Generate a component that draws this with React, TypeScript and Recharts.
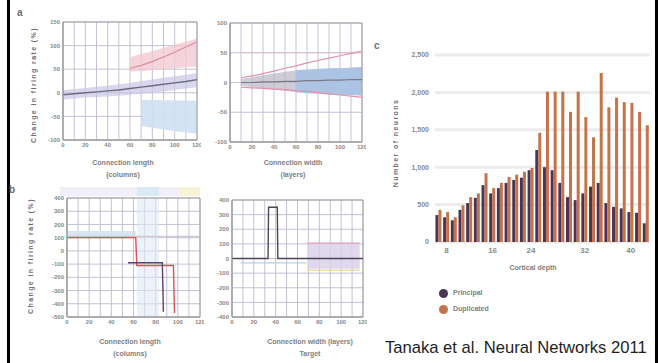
import React from 'react';
import {
  ComposedChart,
  BarChart,
  Bar,
  Line,
  Area,
  XAxis,
  YAxis,
  CartesianGrid,
  ReferenceArea,
} from 'recharts';

// ---------- panel a (top left) ----------
const aX = [0, 10, 20, 30, 40, 50, 60, 70, 80, 90, 100, 110, 120];
const aMean = [-4, -2, 0, 2, 4, 6, 9, 12, 15, 18, 21, 24, 28];
const aBandHi = [6, 8, 10, 13, 15, 18, 21, 25, 28, 32, 35, 38, 42];
const aBandLo = [-14, -12, -10, -9, -8, -6, -4, -2, 0, 3, 6, 9, 12];
const aPinkHi = [null, null, null, null, null, null, 76, 82, 88, 95, 102, 108, 115];
const aPinkLo = [null, null, null, null, null, null, 45, 46, 48, 50, 52, 54, 56];
const aRed = [null, null, null, null, null, null, 52, 58, 66, 76, 86, 97, 108];
const aBlueHi = [null, null, null, null, null, null, null, -15, -15, -16, -16, -17, -17];
const aBlueLo = [null, null, null, null, null, null, null, -70, -74, -78, -81, -84, -87];
const aTicksY = [-100, -50, 0, 50, 100, 150];

// ---------- panel b (top middle) ----------
const bX = [10, 20, 30, 40, 50, 60, 70, 80, 90, 100, 110, 120];
const bMean = [0, 0, 1, 1, 2, 2, 3, 3, 4, 4, 5, 5];
const bBandHi = [6, 9, 12, 15, 18, 20, 21, 22, 23, 24, 25, 26];
const bBandLo = [-6, -8, -10, -12, -14, -16, -17, -18, -19, -20, -21, -22];
const bBlueHi = [null, null, null, null, null, 21, 22, 23, 24, 24, 25, 26];
const bBlueLo = [null, null, null, null, null, -17, -18, -19, -20, -21, -21, -22];
const bPinkUp = [8, 11, 15, 19, 24, 28, 33, 37, 41, 45, 49, 53];
const bPinkDown = [-8, -9, -10, -11, -12, -14, -15, -17, -19, -21, -23, -25];
const bPinkFlat = [50, 50, 50, 50, 50, 50, 50, 50, 50, 50, 50, 50];
const bTicksY = [-100, -50, 0, 50, 100];

// ---------- panel c (bottom left) ----------
const cX = [0, 10, 20, 30, 40, 50, 55, 62, 63, 70, 80, 86, 87, 96, 97, 110, 120];
const cRed = [100, 100, 100, 100, 100, 100, 100, 100, -110, -110, -110, -110, -110, -110, -470, null, null];
const cPurple = [null, null, null, null, null, null, -90, -90, -90, -90, -90, -90, -460, null, null, null, null];
const cGrey = [110, 110, 110, 110, 110, 110, 110, 110, 110, 110, 110, 110, 110, 110, 110, 110, 110];
const cLavHi = [150, 150, 150, 150, 150, 150, 150, 150, null, null, null, null, null, null, null, null, null];
const cLavLo = [100, 100, 100, 100, 100, 100, 100, 100, null, null, null, null, null, null, null, null, null];
const cTicksY = [-500, -400, -300, -200, -100, 0, 100, 200, 300, 400];

// ---------- panel d (bottom middle) ----------
const dX = [0, 8, 20, 33, 33.5, 41.5, 42, 50, 60, 68, 69, 80, 90, 100, 110, 117, 120];
const dBlack = [0, 0, 0, 0, 350, 350, 0, 0, 0, 0, 0, 0, 0, 0, 0, 0, 0];
const dBlue = [null, -30, -30, -30, -30, -30, -30, -30, -30, -30, null, null, null, null, null, null, null];
const dPink = [null, null, null, null, null, null, null, null, null, null, 105, 105, 105, 105, 105, 105, null];
const dYellow = [null, null, null, null, null, null, null, null, null, null, -80, -80, -80, -80, -80, -80, null];
const dLavTop = [null, null, null, null, null, null, null, null, null, null, 105, 105, 105, 105, 105, 105, null];
const dLavBottom = [null, null, null, null, null, null, null, null, null, null, -70, -70, -70, -70, -70, -70, null];
const dTicksY = [-400, -300, -200, -100, 0, 100, 200, 300, 400];

const xGridTicks = [0, 10, 20, 30, 40, 50, 60, 70, 80, 90, 100, 110, 120];

// ---------- panel c (bar chart) ----------
const barCategories = ['1', '2', '3', '4', '5', '6', '7', '8', '9', '10', '11', '12', '13', '14',
  '15', '16', '17', '18', '19', '20', '21', '22', '23', '24', '25', '26', '27', '28'];
const principal = [360, 330, 290, 430, 520, 590, 760, 650, 720, 790, 830, 860, 960, 1230,
  1000, 960, 790, 600, 560, 650, 740, 790, 520, 470, 450, 400, 390, 250];
const duplicated = [430, 400, 330, 490, 600, 650, 920, 720, 790, 870, 900, 940, 990, 1460,
  2010, 2010, 2010, 1740, 2010, 1670, 1400, 2260, 1800, 1930, 1870, 1860, 1740, 1560];
const barTickText: Record<string, string> = { '2': '8', '8': '16', '13': '24', '20': '32', '26': '40' };
const barTicksY = [0, 500, 1000, 1500, 2000, 2500];

const font = "'Liberation Sans', Arial, sans-serif";
const tickStyle = { fontSize: 6, fontWeight: 700, fill: '#8a8a8a', fontFamily: font };

const zip = (xs: number[], cols: Record<string, (number | null)[]>, ranges: Record<string, [(number | null)[], (number | null)[]]>) =>
  xs.map((x, i) => {
    const row: any = { x };
    Object.keys(cols).forEach(k => { row[k] = cols[k][i]; });
    Object.keys(ranges).forEach(k => {
      const lo = ranges[k][0][i];
      const hi = ranges[k][1][i];
      row[k] = lo == null || hi == null ? null : [lo, hi];
    });
    return row;
  });

const aData = zip(aX, { mean: aMean, red: aRed }, { band: [aBandLo, aBandHi], pink: [aPinkLo, aPinkHi], blue: [aBlueLo, aBlueHi] });
const bData = zip(bX, { mean: bMean, up: bPinkUp, down: bPinkDown, flat: bPinkFlat }, { band: [bBandLo, bBandHi], blue: [bBlueLo, bBlueHi] });
const cData = zip(cX, { red: cRed, purple: cPurple, grey: cGrey }, { lav: [cLavLo, cLavHi] });
const dData = zip(dX, { black: dBlack, blue: dBlue, pink: dPink, yellow: dYellow }, { lav: [dLavBottom, dLavTop] });

const barData = barCategories.map((c, i) => ({ cat: c, principal: principal[i], duplicated: duplicated[i] }));

type PanelProps = {
  left: number; top: number; width: number; height: number; yWidth: number;
  data: any[]; yDomain: [number, number]; yTicks: number[]; children: React.ReactNode;
};

function Panel({ left, top, width, height, yWidth, data, yDomain, yTicks, children }: PanelProps) {
  return (
    <div style={{ position: 'absolute', left, top }}>
      <ComposedChart width={width} height={height} data={data} margin={{ top: 4, right: 4, bottom: 0, left: 0 }}>
        <CartesianGrid stroke="#bcbad2" strokeWidth={0.9} />
        <XAxis
          dataKey="x"
          type="number"
          domain={[0, 120]}
          ticks={xGridTicks}
          interval={0}
          tickFormatter={(v: number) => (v % 20 === 0 ? String(v) : '')}
          tick={tickStyle}
          tickSize={2}
          tickMargin={1}
          tickLine={false}
          axisLine={{ stroke: '#9a9a9a' }}
          height={12}
        />
        <YAxis
          type="number"
          domain={yDomain}
          ticks={yTicks}
          interval={0}
          tick={tickStyle}
          tickSize={2}
          tickMargin={1}
          tickLine={false}
          axisLine={{ stroke: '#9a9a9a' }}
          width={yWidth}
        />
        {children}
        <ReferenceArea x1={0} x2={120} y1={yDomain[0]} y2={yDomain[1]} fill="none" stroke="#a0a0a0" strokeWidth={1} />
      </ComposedChart>
    </div>
  );
}

function AxisTitle({ x, y, lines }: { x: number; y: number; lines: string[] }) {
  return (
    <div style={{
      position: 'absolute', left: x, top: y, transform: 'translateX(-50%)', textAlign: 'center',
      fontFamily: font, fontSize: 7, fontWeight: 700, color: '#808080', lineHeight: '12px', whiteSpace: 'nowrap',
    }}>
      {lines.map(l => <div key={l}>{l}</div>)}
    </div>
  );
}

function VTitle({ x, y, text }: { x: number; y: number; text: string }) {
  return (
    <div style={{
      position: 'absolute', left: x, top: y, transform: 'translate(-50%, -50%) rotate(-90deg)',
      fontFamily: font, fontSize: 7, fontWeight: 700, color: '#6e6e6e', whiteSpace: 'nowrap', letterSpacing: 1.4,
    }}>
      {text}
    </div>
  );
}

function Letter({ x, y, t }: { x: number; y: number; t: string }) {
  return (
    <div style={{ position: 'absolute', left: x, top: y, fontFamily: font, fontSize: 10, fontWeight: 700, color: '#6e6e6e' }}>{t}</div>
  );
}

export default function App() {
  return (
    <div style={{ position: 'absolute', left: 0, top: 0, width: 659, height: 363, background: '#fff', overflow: 'hidden' }}>
      {/* slide frame */}
      <div style={{ position: 'absolute', left: 7, top: 0, width: 2.5, height: 363, background: '#000' }} />
      <div style={{ position: 'absolute', left: 655, top: 0, width: 3, height: 363, background: '#000' }} />

      <Letter x={17} y={7} t="a" />
      <Letter x={9} y={184} t="b" />
      <Letter x={374} y={40} t="c" />

      <VTitle x={33} y={85} text="Change in firing rate (%)" />
      <VTitle x={30} y={256} text="Change in firing rate (%)" />
      <VTitle x={395} y={143} text="Number of neurons" />

      {/* panel a */}
      <Panel left={20} top={18} width={181} height={134} yWidth={43} data={aData} yDomain={[-100, 150]} yTicks={aTicksY}>
        <Area dataKey="band" type="linear" stroke="none" fill="#c9c6e6" fillOpacity={0.7} isAnimationActive={false} />
        <Area dataKey="pink" type="linear" stroke="none" fill="#f3c9d3" fillOpacity={0.8} isAnimationActive={false} />
        <Area dataKey="blue" type="linear" stroke="none" fill="#cfe0f2" fillOpacity={0.9} isAnimationActive={false} />
        <Line dataKey="mean" type="linear" stroke="#6d6a7e" strokeWidth={1.4} dot={false} isAnimationActive={false} />
        <Line dataKey="red" type="linear" stroke="#e08a9c" strokeWidth={1.2} dot={false} isAnimationActive={false} />
      </Panel>
      <AxisTitle x={123} y={157} lines={['Connection length', '(columns)']} />

      {/* panel b */}
      <Panel left={200} top={19} width={166} height={135} yWidth={30} data={bData} yDomain={[-100, 100]} yTicks={bTicksY}>
        <Area dataKey="band" type="linear" stroke="none" fill="#b9b6c4" fillOpacity={0.7} isAnimationActive={false} />
        <Area dataKey="blue" type="linear" stroke="none" fill="#a9c3e6" fillOpacity={0.9} isAnimationActive={false} />
        <Line dataKey="flat" type="linear" stroke="#e7bccb" strokeWidth={1} dot={false} isAnimationActive={false} />
        <Line dataKey="mean" type="linear" stroke="#7c7886" strokeWidth={1.2} dot={false} isAnimationActive={false} />
        <Line dataKey="up" type="linear" stroke="#e493a6" strokeWidth={1.2} dot={false} isAnimationActive={false} />
        <Line dataKey="down" type="linear" stroke="#e493a6" strokeWidth={1.2} dot={false} isAnimationActive={false} />
      </Panel>
      <AxisTitle x={293} y={157} lines={['Connection width', '(layers)']} />

      {/* colour strips above panel c */}
      <div style={{ position: 'absolute', left: 60, top: 187, width: 140, height: 9, background: '#f1f0f8' }} />
      <div style={{ position: 'absolute', left: 137, top: 187, width: 22, height: 9, background: '#dbe8f6' }} />
      <div style={{ position: 'absolute', left: 180, top: 187, width: 20, height: 9, background: '#f7f3d6' }} />

      {/* panel c */}
      <Panel left={20} top={194} width={184} height={135} yWidth={47} data={cData} yDomain={[-500, 400]} yTicks={cTicksY}>
        <ReferenceArea x1={63} x2={83} y1={-500} y2={400} fill="#dfe9f6" fillOpacity={0.6} stroke="none" />
        <Area dataKey="lav" type="linear" stroke="none" fill="#d3e2f3" fillOpacity={0.9} isAnimationActive={false} />
        <Line dataKey="grey" type="linear" stroke="#c9bcc8" strokeWidth={1} dot={false} isAnimationActive={false} />
        <Line dataKey="red" type="linear" stroke="#d9534f" strokeWidth={1.4} dot={false} isAnimationActive={false} />
        <Line dataKey="purple" type="linear" stroke="#5b3f78" strokeWidth={1.4} dot={false} isAnimationActive={false} />
      </Panel>
      <AxisTitle x={130} y={336} lines={['Connection length', '(columns)']} />

      {/* panel d */}
      <Panel left={200} top={196} width={167} height={133} yWidth={32} data={dData} yDomain={[-400, 400]} yTicks={dTicksY}>
        <Area dataKey="lav" type="linear" stroke="none" fill="#d8d0e8" fillOpacity={0.8} isAnimationActive={false} />
        <Line dataKey="blue" type="linear" stroke="#b7cde9" strokeWidth={1.4} dot={false} isAnimationActive={false} />
        <Line dataKey="pink" type="linear" stroke="#e5a0b8" strokeWidth={1.2} dot={false} isAnimationActive={false} />
        <Line dataKey="yellow" type="linear" stroke="#ecd98a" strokeWidth={1.2} dot={false} isAnimationActive={false} />
        <Line dataKey="black" type="linear" stroke="#4a4656" strokeWidth={1.4} dot={false} isAnimationActive={false} />
      </Panel>
      <AxisTitle x={310} y={336} lines={['Connection width (layers)', 'Target']} />

      {/* bar chart */}
      <div style={{ position: 'absolute', left: 380, top: 50 }}>
        <BarChart
          width={274}
          height={206}
          data={barData}
          margin={{ top: 5, right: 4, bottom: 0, left: 0 }}
          barCategoryGap="6%"
          barGap={0}
        >
          <CartesianGrid vertical={false} stroke="#ececec" strokeWidth={3} />
          <XAxis
            dataKey="cat"
            interval={0}
            tickFormatter={(v: string) => barTickText[v] ?? ''}
            tick={{ ...tickStyle, fontSize: 8 }}
            tickLine={false}
            axisLine={false}
            tickSize={3}
            tickMargin={2}
            height={14}
          />
          <YAxis
            type="number"
            domain={[0, 2500]}
            ticks={barTicksY}
            interval={0}
            tickFormatter={(v: number) => v.toLocaleString('en-US')}
            tick={{ ...tickStyle, fontSize: 7 }}
            tickLine={false}
            axisLine={false}
            tickSize={3}
            tickMargin={3}
            width={55}
          />
          <Bar dataKey="principal" fill="#4a3452" isAnimationActive={false} />
          <Bar dataKey="duplicated" fill="#c4744c" isAnimationActive={false} />
        </BarChart>
      </div>
      <AxisTitle x={533} y={262} lines={['Cortical depth']} />

      {/* legend */}
      <div style={{ position: 'absolute', left: 439, top: 285, fontFamily: font, fontSize: 7, fontWeight: 700, color: '#808080', lineHeight: '16px' }}>
        <div style={{ display: 'flex', alignItems: 'center' }}>
          <span style={{ display: 'inline-block', width: 9, height: 9, borderRadius: '50%', background: '#4a3452', marginRight: 5 }} />
          Principal
        </div>
        <div style={{ display: 'flex', alignItems: 'center' }}>
          <span style={{ display: 'inline-block', width: 9, height: 9, borderRadius: '50%', background: '#c4744c', marginRight: 5 }} />
          Duplicated
        </div>
      </div>

      <div style={{ position: 'absolute', left: 385, top: 338, fontFamily: font, fontSize: 16.6, color: '#1e1e1e', whiteSpace: 'nowrap' }}>
        Tanaka et al. Neural Networks 2011
      </div>
    </div>
  );
}
